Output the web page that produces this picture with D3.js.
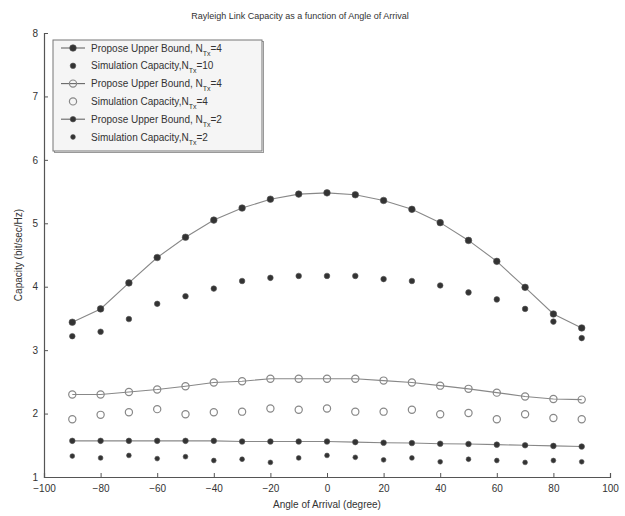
<!DOCTYPE html>
<html>
<head>
<meta charset="utf-8">
<script src="https://cdn.jsdelivr.net/npm/d3@7"></script>
<style>
  html, body { margin: 0; padding: 0; background: #fff; }
  svg { display: block; font-family: "Liberation Sans", Arial, sans-serif; }
</style>
</head>
<body>
<svg id="chart" width="625" height="516"></svg>
<script>
// Angle of arrival (degrees)
const angles = [-90, -80, -70, -60, -50, -40, -30, -20, -10, 0, 10, 20, 30, 40, 50, 60, 70, 80, 90];

// Capacity (bit/sec/Hz) for each series
const boundTx10 = [3.44, 3.65, 4.06, 4.46, 4.78, 5.05, 5.24, 5.38, 5.46, 5.48, 5.45, 5.36, 5.22, 5.01, 4.73, 4.40, 3.99, 3.57, 3.35];
const simTx10   = [3.22, 3.29, 3.49, 3.73, 3.85, 3.97, 4.09, 4.14, 4.17, 4.17, 4.17, 4.12, 4.09, 4.02, 3.91, 3.80, 3.65, 3.45, 3.19];
const boundTx4  = [2.30, 2.30, 2.34, 2.38, 2.43, 2.49, 2.51, 2.55, 2.55, 2.55, 2.55, 2.52, 2.49, 2.44, 2.39, 2.33, 2.27, 2.23, 2.22];
const simTx4    = [1.91, 1.98, 2.02, 2.07, 1.99, 2.02, 2.03, 2.08, 2.06, 2.08, 2.03, 2.03, 2.06, 1.99, 2.01, 1.91, 1.99, 1.93, 1.91];
const boundTx2  = [1.57, 1.57, 1.57, 1.57, 1.57, 1.57, 1.56, 1.56, 1.56, 1.56, 1.55, 1.54, 1.535, 1.525, 1.52, 1.51, 1.50, 1.49, 1.48];
const simTx2    = [1.33, 1.30, 1.34, 1.29, 1.32, 1.26, 1.28, 1.23, 1.30, 1.34, 1.31, 1.27, 1.30, 1.24, 1.28, 1.26, 1.23, 1.26, 1.24];

// Axis ticks
const xTicks = [-100, -80, -60, -40, -20, 0, 20, 40, 60, 80, 100];
const yTicks = [1, 2, 3, 4, 5, 6, 7, 8];

// Legend entries: main text, subscript, suffix
const legendText = [
  ["Propose Upper Bound, N", "Tx", "=4"],
  ["Simulation Capacity,N", "Tx", "=10"],
  ["Propose Upper Bound, N", "Tx", "=4"],
  ["Simulation Capacity,N", "Tx", "=4"],
  ["Propose Upper Bound, N", "Tx", "=2"],
  ["Simulation Capacity,N", "Tx", "=2"]
];

const titleText = "Rayleigh Link Capacity as a function of Angle of Arrival";
const xLabel = "Angle of Arrival (degree)";
const yLabel = "Capacity (bit/sec/Hz)";

const svg = d3.select("#chart");
const margin = { left: 44, right: 15, top: 33, bottom: 39 };
const W = 625, H = 516;

const x = d3.scaleLinear().domain([-100, 100]).range([margin.left, W - margin.right]);
const y = d3.scaleLinear().domain([1, 8]).range([H - margin.bottom, margin.top]);

const axisColor = "#555";
const textColor = "#333";

// Axes with inward ticks
const xAxis = svg.append("g")
  .attr("transform", `translate(0,${y(1)})`)
  .call(d3.axisBottom(x).tickValues(xTicks).tickSize(-4).tickPadding(8).tickFormat(d3.format("d")));
const yAxis = svg.append("g")
  .attr("transform", `translate(${x(-100)},0)`)
  .call(d3.axisLeft(y).tickValues(yTicks).tickSize(-4).tickPadding(6).tickFormat(d3.format("d")));

[xAxis, yAxis].forEach(a => {
  a.select(".domain").attr("stroke", axisColor).attr("stroke-width", 1.2);
  a.selectAll(".tick line").attr("stroke", axisColor);
  a.selectAll(".tick text").attr("fill", textColor).attr("font-size", 10);
});

// Title and axis labels
svg.append("text")
  .attr("x", 300).attr("y", 19)
  .attr("text-anchor", "middle").attr("font-size", 9).attr("fill", textColor)
  .text(titleText);
svg.append("text")
  .attr("x", x(0)).attr("y", 508)
  .attr("text-anchor", "middle").attr("font-size", 10).attr("fill", textColor)
  .text(xLabel);
svg.append("text")
  .attr("transform", `translate(22,${y(4.5)}) rotate(-90)`)
  .attr("text-anchor", "middle").attr("font-size", 10).attr("fill", textColor)
  .text(yLabel);

// Series definitions: values, whether a connecting line is drawn, marker style
const series = [
  { values: boundTx10, line: true,  marker: "dot",    r: 3.3 },
  { values: simTx10,   line: false, marker: "dot",    r: 2.8 },
  { values: boundTx4,  line: true,  marker: "circle", r: 3.6 },
  { values: simTx4,    line: false, marker: "circle", r: 3.6 },
  { values: boundTx2,  line: true,  marker: "dot",    r: 2.8 },
  { values: simTx2,    line: false, marker: "dot",    r: 2.4 }
];

const lineGen = d3.line().x((d, i) => x(angles[i])).y(d => y(d));

function drawMarker(g, type, r, cx, cy) {
  if (type === "dot") {
    g.append("circle").attr("cx", cx).attr("cy", cy).attr("r", r)
      .attr("fill", "#333").attr("stroke", "#555").attr("stroke-width", 0.6);
  } else {
    g.append("circle").attr("cx", cx).attr("cy", cy).attr("r", r)
      .attr("fill", "none").attr("stroke", "#888").attr("stroke-width", 1.2);
  }
}

series.forEach(s => {
  const g = svg.append("g");
  if (s.line) {
    g.append("path").datum(s.values).attr("d", lineGen)
      .attr("fill", "none").attr("stroke", "#888").attr("stroke-width", 1.1);
  }
  s.values.forEach((v, i) => drawMarker(g, s.marker, s.r, x(angles[i]), y(v)));
});

// Legend
const lg = svg.append("g");
const lx = 53, ly = 40, lw = 209, lh = 111;
lg.append("rect").attr("x", lx + 1.5).attr("y", ly + 1.5).attr("width", lw).attr("height", lh)
  .attr("fill", "none").attr("stroke", "#999").attr("stroke-width", 1);
lg.append("rect").attr("x", lx).attr("y", ly).attr("width", lw).attr("height", lh)
  .attr("fill", "#f5f5f5").attr("stroke", "#777").attr("stroke-width", 1);

legendText.forEach((t, i) => {
  const ry = 48 + i * 17.8;
  const s = series[i];
  if (s.line) {
    lg.append("line").attr("x1", 61).attr("x2", 85).attr("y1", ry).attr("y2", ry)
      .attr("stroke", "#666").attr("stroke-width", 1.1);
  }
  drawMarker(lg, s.marker, s.r, 73, ry);
  const txt = lg.append("text").attr("x", 91).attr("y", ry + 3.5)
    .attr("font-size", 10).attr("fill", textColor);
  txt.append("tspan").text(t[0]);
  txt.append("tspan").attr("font-size", 7).attr("dy", 4).text(t[1]);
  txt.append("tspan").attr("dy", -4).text(t[2]);
});
</script>
</body>
</html>
